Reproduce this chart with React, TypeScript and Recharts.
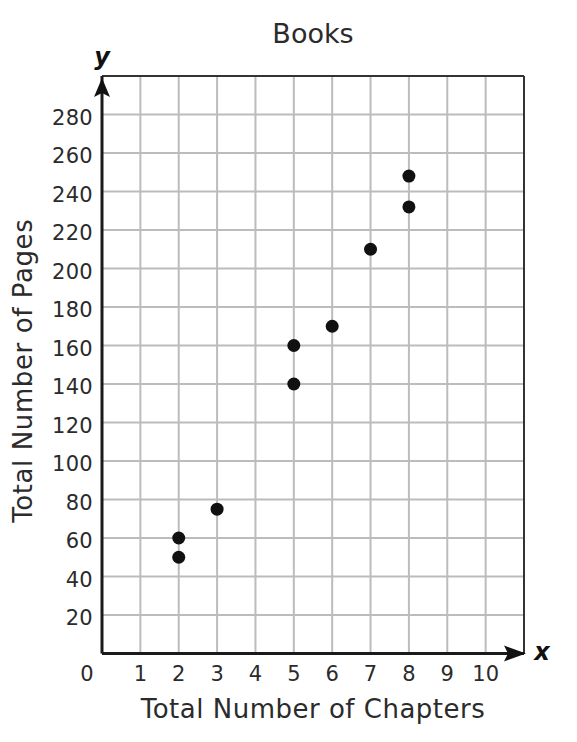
import React from 'react';
import {
  ScatterChart,
  Scatter,
  XAxis,
  YAxis,
  CartesianGrid,
  ReferenceLine,
  ReferenceDot,
} from 'recharts';

const chapters = [2, 2, 3, 5, 5, 6, 7, 8, 8];
const pages = [50, 60, 75, 140, 160, 170, 210, 232, 248];
const xTicks = [0, 1, 2, 3, 4, 5, 6, 7, 8, 9, 10];
const yTicks = [20, 40, 60, 80, 100, 120, 140, 160, 180, 200, 220, 240, 260, 280];
const xDomain = [0, 11];
const yDomain = [0, 300];
const title = 'Books';
const xLabel = 'Total Number of Chapters';
const yLabel = 'Total Number of Pages';

const data = chapters.map((c, i) => ({ x: c, y: pages[i] }));

const FONT = '"DejaVu Sans", Verdana, sans-serif';
const TEXT = '#2b2b2b';

const XTick = (props: any) => {
  const { x, y, payload } = props;
  const dx = payload.value === 0 ? -15 : 0;
  return (
    <text x={x + dx} y={y + 27} textAnchor="middle" fontFamily={FONT} fontSize={21} fill={TEXT}>
      {payload.value}
    </text>
  );
};

const YTick = (props: any) => {
  const { x, y, payload } = props;
  return (
    <text x={x - 9} y={y + 10} textAnchor="end" fontFamily={FONT} fontSize={21} fill={TEXT} style={{ letterSpacing: '0.3px' }}>
      {payload.value}
    </text>
  );
};

const YLabel = (props: any) => {
  const vb = props.viewBox || { x: 0, y: 0, width: 0, height: 0 };
  const cx = vb.x + 32;
  const cy = vb.y + vb.height / 2 + 6;
  return (
    <text
      x={cx}
      y={cy}
      transform={`rotate(-90 ${cx} ${cy})`}
      textAnchor="middle"
      fontFamily={FONT}
      fontSize={26}
      fill={TEXT}
      style={{ letterSpacing: '0.6px' }}
    >
      {yLabel}
    </text>
  );
};

const Dot = (props: any) => <circle cx={props.cx} cy={props.cy} r={6.5} fill="#111" />;

const YArrow = (props: any) => {
  const { cx, cy } = props;
  return (
    <g>
      <path
        d={`M${cx},${cy + 2} L${cx + 8},${cy + 21} L${cx},${cy + 17} L${cx - 8},${cy + 21} Z`}
        fill="#111"
      />
      <text x={cx} y={cy - 11} textAnchor="middle" fontFamily={FONT} fontSize={24} fontStyle="italic" fontWeight="bold" fill="#111">
        y
      </text>
    </g>
  );
};

const XArrow = (props: any) => {
  const { cx, cy } = props;
  return (
    <g>
      <path
        d={`M${cx + 2},${cy} L${cx - 20},${cy - 8} L${cx - 16},${cy} L${cx - 20},${cy + 8} Z`}
        fill="#111"
      />
      <text x={cx + 18} y={cy + 6} textAnchor="middle" fontFamily={FONT} fontSize={24} fontStyle="italic" fontWeight="bold" fill="#111">
        x
      </text>
    </g>
  );
};

export default function App() {
  return (
    <div style={{ position: 'absolute', left: 0, top: 0, width: 577, height: 742, background: '#fff' }}>
      <ScatterChart width={577} height={742} margin={{ top: 76, right: 53, bottom: 0, left: 0 }}>
        <CartesianGrid stroke="#bcbcbc" strokeWidth={2} />
        <XAxis
          type="number"
          dataKey="x"
          domain={xDomain}
          ticks={xTicks}
          interval={0}
          height={88.5}
          tickSize={0}
          tickMargin={0}
          tickLine={false}
          tick={<XTick />}
          axisLine={{ stroke: '#1a1a1a', strokeWidth: 3 }}
          label={{
            value: xLabel,
            position: 'insideBottom',
            offset: 24,
            fill: TEXT,
            fontSize: 26,
            fontFamily: FONT,
            style: { letterSpacing: '0.5px' },
          }}
        />
        <YAxis
          type="number"
          dataKey="y"
          domain={yDomain}
          ticks={yTicks}
          interval={0}
          width={102}
          tickSize={0}
          tickMargin={0}
          tickLine={false}
          tick={<YTick />}
          axisLine={{ stroke: '#1a1a1a', strokeWidth: 3 }}
          label={{ content: <YLabel /> }}
        />
        <ReferenceLine
          y={300}
          stroke="#333"
          strokeWidth={2}
          label={{
            value: title,
            position: 'top',
            offset: 33,
            fill: TEXT,
            fontSize: 27,
            fontFamily: FONT,
          }}
        />
        <ReferenceLine x={11} stroke="#333" strokeWidth={2} />
        <Scatter data={data} fill="#111" shape={<Dot />} isAnimationActive={false} />
        <ReferenceDot x={0} y={300} r={0} shape={<YArrow />} />
        <ReferenceDot x={11} y={0} r={0} shape={<XArrow />} />
      </ScatterChart>
    </div>
  );
}
